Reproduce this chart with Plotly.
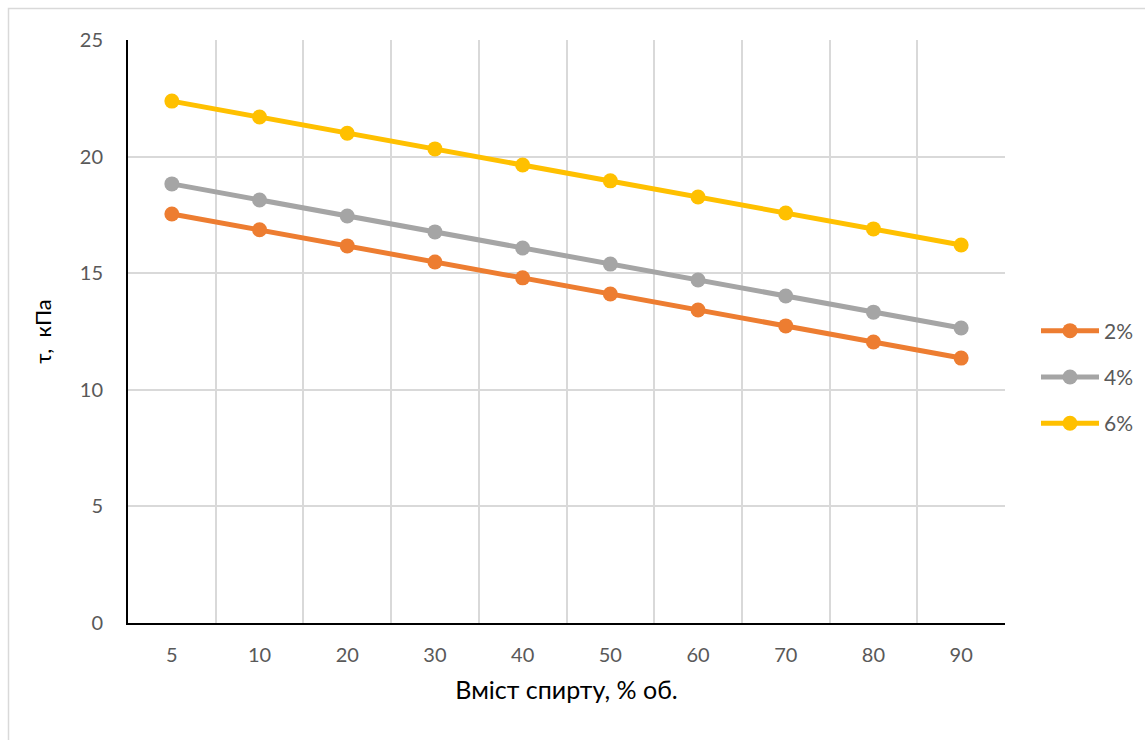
import plotly.graph_objects as go

# Alcohol content, % vol. (categorical axis)
alcohol = ["5", "10", "20", "30", "40", "50", "60", "70", "80", "90"]

# Shear stress, kPa, for each concentration
tau_2 = [17.54, 16.86, 16.17, 15.48, 14.80, 14.11, 13.42, 12.74, 12.05, 11.36]
tau_4 = [18.83, 18.14, 17.45, 16.77, 16.08, 15.39, 14.71, 14.02, 13.33, 12.65]
tau_6 = [22.38, 21.70, 21.00, 20.33, 19.64, 18.96, 18.27, 17.58, 16.90, 16.21]

series_names = ["2%", "4%", "6%"]
series_values = [tau_2, tau_4, tau_6]
series_colors = ["#ED7D31", "#A5A5A5", "#FFC000"]

FONT = "Lato, 'Open Sans', sans-serif"

fig = go.Figure()
for name, vals, col in zip(series_names, series_values, series_colors):
    fig.add_trace(go.Scatter(
        x=alcohol, y=vals, name=name, legendgroup=name,
        mode="lines+markers",
        line=dict(color=col, width=5),
        marker=dict(color=col, size=15),
    ))

W, H = 1145, 740
L, R, T, B = 128, 140, 40, 117
pw, ph = W - L - R, H - T - B


def px_x(p):
    return (p - L) / pw


def px_y(p):
    return (H - B - p) / ph


fig.update_layout(
    width=W, height=H,
    margin=dict(l=L, r=R, t=T, b=B, autoexpand=False),
    paper_bgcolor="white", plot_bgcolor="white",
    font=dict(family=FONT, size=20, color="#595959"),
    showlegend=True,
    legend=dict(
        x=px_x(1036), y=px_y(377), xanchor="left", yanchor="middle",
        font=dict(family=FONT, size=21, color="#595959"),
        itemwidth=58,
        tracegroupgap=16, bgcolor="rgba(0,0,0,0)",
    ),
    xaxis=dict(
        type="category",
        tickson="boundaries",
        showgrid=True, gridcolor="#D9D9D9", gridwidth=1.5,
        showline=True, linecolor="black", linewidth=2,
        ticks="", ticklabelstandoff=13,
        tickfont=dict(size=20, color="#595959"),
        title=dict(text="Вміст спирту, % об.", standoff=16,
                   font=dict(family=FONT, size=25, color="black")),
        range=[-0.5, 9.5],
    ),
    yaxis=dict(
        range=[0, 25], dtick=5,
        showgrid=True, gridcolor="#D9D9D9", gridwidth=1.5,
        showline=True, linecolor="black", linewidth=2,
        zeroline=False,
        ticks="", ticklabelstandoff=19,
        tickfont=dict(size=20, color="#595959"),
        title=dict(text="τ,  кПа", standoff=22,
                   font=dict(family=FONT, size=22, color="black")),
    ),
    shapes=[dict(
        type="rect", xref="paper", yref="paper",
        x0=px_x(8.5), x1=px_x(1160), y0=px_y(760), y1=px_y(8.5),
        line=dict(color="#D9D9D9", width=1.5), fillcolor="rgba(0,0,0,0)",
        layer="below",
    )],
)

fig.write_html("out.html")
